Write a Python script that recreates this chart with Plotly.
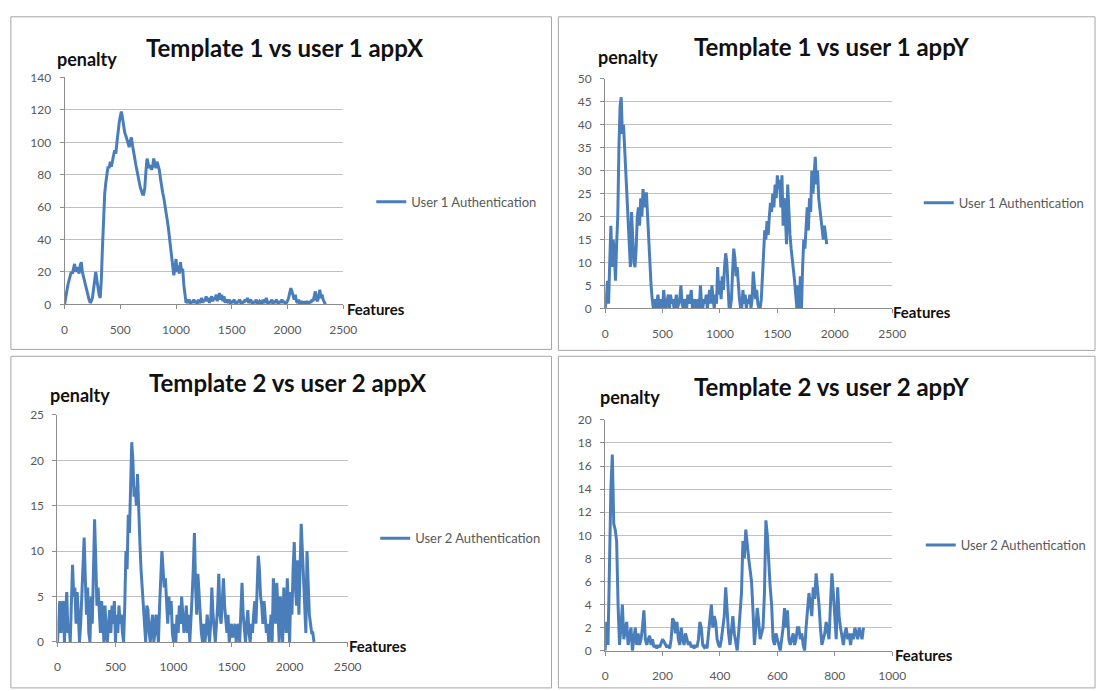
import plotly.graph_objects as go

# ---- data: penalty per feature index for each comparison ----
# Template 1 vs user 1, appX (sampled every 10 features)
penalty_t1_x = [
    0, 3, 8, 12, 15, 18, 20, 19, 22, 25,
    20, 23, 21, 19, 24, 26, 20, 17, 13, 12,
    9, 6, 3, 1, 2, 4, 10, 17, 20, 15,
    10, 6, 4, 15, 35, 55, 68, 75, 80, 85,
    84, 88, 85, 90, 92, 95, 93, 100, 108, 112,
    116, 119, 115, 110, 106, 104, 102, 100, 97, 101,
    103, 98, 95, 90, 86, 82, 78, 75, 72, 70,
    68, 68, 72, 82, 90, 87, 84, 86, 83, 85,
    90, 87, 84, 88, 86, 83, 78, 72, 69, 66,
    62, 58, 54, 48, 42, 36, 30, 24, 18, 22,
    28, 20, 24, 19, 26, 20, 22, 12, 4, 1,
    2, 1, 3, 0, 2, 1, 3, 1, 2, 0,
    3, 1, 2, 4, 1, 3, 2, 5, 2, 4,
    1, 3, 5, 2, 4, 3, 6, 2, 4, 7,
    3, 6, 2, 5, 1, 3, 2, 1, 3, 0,
    2, 1, 3, 1, 0, 2, 1, 3, 1, 0,
    2, 1, 3, 2, 4, 1, 2, 3, 1, 0,
    2, 1, 3, 0, 1, 2, 1, 0, 3, 1,
    2, 4, 1, 0, 2, 1, 3, 0, 2, 1,
    3, 1, 0, 2, 1, 3, 1, 2, 0, 1,
    2, 4, 7, 10, 8, 5, 3, 6, 2, 1,
    3, 0, 1, 2, 0, 1, 0, 2, 1, 0,
    2, 1, 3, 2, 5, 8, 3, 2, 5, 9,
    4, 6, 3, 1, 0,
]
step_t1_x = 10

# Template 1 vs user 1, appY (sampled every 10 features)
penalty_t1_y = [
    0, 2, 6, 1, 10, 18, 9, 15, 12, 6,
    14, 20, 35, 44, 46, 38, 40, 35, 30, 27,
    22, 14, 9, 21, 15, 10, 9, 13, 20, 22,
    18, 24, 20, 26, 22, 25, 25, 20, 12, 8,
    5, 2, 0, 2, 0, 1, 3, 0, 2, 1,
    0, 4, 1, 0, 2, 3, 0, 3, 1, 2,
    0, 1, 3, 0, 1, 2, 5, 1, 0, 2,
    1, 0, 3, 1, 2, 4, 0, 1, 2, 0,
    1, 2, 0, 5, 1, 0, 2, 1, 3, 0,
    2, 4, 1, 5, 2, 0, 3, 1, 9, 3,
    6, 2, 7, 4, 9, 12, 10, 5, 0, 0,
    2, 8, 13, 11, 7, 9, 4, 2, 0, 0,
    4, 1, 3, 0, 2, 1, 3, 0, 2, 8,
    5, 2, 4, 1, 0, 0, 2, 6, 12, 17,
    15, 19, 16, 20, 23, 21, 25, 22, 27, 24,
    29, 26, 28, 22, 29, 18, 24, 20, 14, 27,
    20, 16, 13, 11, 8, 6, 3, 0, 5, 0,
    7, 0, 9, 15, 13, 18, 22, 17, 24, 21,
    30, 25, 28, 33, 27, 30, 24, 22, 19, 17,
    15, 18, 16, 14,
]
step_t1_y = 10

# Template 2 vs user 2, appX (sampled every 10 features)
penalty_t2_x = [
    0, 3, 4.5, 1, 4, 4.5, 0, 3, 5.5, 1,
    2, 0, 4, 8.5, 5, 6, 2, 5.5, 3, 0,
    2, 5, 9, 11.5, 7, 3, 6, 1, 0, 5,
    2, 8, 13.5, 9, 4, 6, 3, 1, 4.5, 3,
    0, 4, 1, 0, 2, 3.5, 1, 4, 2, 4.5,
    0, 3, 1, 4, 2, 3, 1, 0, 4, 10,
    8, 14, 12, 18, 22, 20, 16, 17, 15, 18.5,
    14, 11, 8, 6, 3, 2, 0, 4, 3.5, 1,
    0, 2, 3, 0, 1, 3, 1, 0, 4, 7,
    10, 8, 6, 7, 4, 2, 5, 3, 4.5, 1,
    0, 2, 0, 3, 1, 4, 2, 5, 3, 1,
    2, 4, 1, 3, 0, 2, 5, 8, 12, 6,
    3, 7.5, 5, 2, 1, 0, 2, 0, 1, 3,
    1, 0, 2, 6, 3, 1, 0, 2, 4, 7.5,
    3, 2, 5, 7, 4, 2, 1, 3, 0, 1,
    2, 0.5, 1, 2, 0, 1.5, 2, 0, 3, 6.5,
    3, 1, 0, 2, 3.5, 1, 0, 2, 1, 3,
    4.5, 2, 6, 9.5, 8, 5, 4, 2, 4.5, 3,
    1, 2, 0, 1, 3, 0, 7, 5, 2, 6.5,
    3, 0, 5, 2, 0, 6, 3, 1, 7, 4,
    0, 5.5, 3, 8, 11, 6, 4, 9, 3, 8,
    13, 10, 7, 4, 1, 10, 6, 3, 2, 1,
    1, 0,
]
step_t2_x = 10

# Template 2 vs user 2, appY (sampled every 5 features)
penalty_t2_y = [
    0, 2.5, 0.5, 7, 14, 17, 11, 10.5, 9.5, 4,
    0.5, 2, 4, 1, 2, 2.5, 0.5, 1.5, 2, 0,
    1, 2, 0.5, 1.5, 0.5, 1, 2, 3.5, 1, 0.5,
    1, 1.3, 0.5, 1, 0.3, 0.5, 0.2, 0.5, 0.3, 0.6,
    1, 0.8, 0.5, 0.3, 0.5, 0.2, 1, 2.8, 2.5, 1.5,
    2.5, 1, 0.5, 2, 1, 0.5, 1.5, 1, 0.5, 0.8,
    0.3, 0.5, 0.2, 0.5, 0.3, 1, 2.5, 2, 0.5, 0.3,
    0.5, 0.2, 1.5, 3, 4, 2, 3, 2.5, 1, 0.5,
    0.3, 1, 2, 3, 5.5, 3, 1.5, 0.5, 2, 3,
    1.5, 0.5, 0, 1.5, 3, 5, 9.5, 8, 10.5, 9,
    8, 7, 6, 3.5, 0.5, 2, 3.7, 2.5, 1, 1.5,
    2, 5, 11.3, 10, 7, 5.5, 4, 1, 0.5, 1.5,
    1, 0.5, 0, 1, 2, 3.7, 2, 3.5, 1, 0.5,
    1, 1.5, 0.5, 1, 2, 2, 1, 1.5, 0.5, 0,
    2, 3.5, 5, 4, 3, 5.5, 4.5, 6.7, 5.5, 4,
    2, 0.5, 1, 1.5, 2.5, 1.5, 1, 4, 6.7, 5,
    3, 1, 5.5, 3, 2, 1, 0.5, 1.5, 2, 1,
    1.5, 0.5, 1.5, 1, 2, 1.5, 1, 2, 1.5, 1,
    2,
]
step_t2_y = 5

titles = ["Template 1 vs user 1 appX", "Template 1 vs user 1 appY",
          "Template 2 vs user 2 appX", "Template 2 vs user 2 appY"]
series_names = ["User 1 Authentication", "User 1 Authentication",
                "User 2 Authentication", "User 2 Authentication"]
x_max = [2500, 2500, 2500, 1000]
x_dtick = [500, 500, 500, 200]
y_max = [140, 50, 25, 20]
y_dtick = [20, 5, 5, 2]

series = [(penalty_t1_x, step_t1_x), (penalty_t1_y, step_t1_y),
          (penalty_t2_x, step_t2_x), (penalty_t2_y, step_t2_y)]

# ---- layout geometry (pixels in a 1111 x 691 page) ----
W, H = 1111, 691
# plot areas: (x of 0, x of max, y of 0, y of max)
plot_px = [
    (62.5, 345.5, 303, 71),
    (611.5, 903, 307, 72.5),
    (55.3, 350, 648, 416),
    (611.5, 903, 657, 421),
]
# chart frames: (left, top, right, bottom)
frames_px = [(8, 9, 557, 349), (564, 9, 1109, 350),
             (8, 356, 557, 695), (564, 356, 1109, 695)]
title_px = [(286, 40), (841, 39), (289, 383), (841, 387)]
ylab_px = [(53, 52), (602, 50), (46, 396), (604, 398)]
xlab_px = [(347, 308), (902, 311), (349, 652), (904, 661)]
legend_px = [(374, 198), (930, 199), (378, 542), (932, 549)]

LINE = "#4A7EBB"
GRID = "#C0C0C0"
AXIS = "#8C8C8C"
TICKC = "#595959"
FONT = "Lato"


def fx(px):
    return px / W


def fy(py):
    return 1 - py / H


fig = go.Figure()
layout = dict(
    width=W, height=H,
    margin=dict(l=0, r=0, t=0, b=0),
    paper_bgcolor="white", plot_bgcolor="white",
    showlegend=True,
    font=dict(family=FONT, color=TICKC, size=12),
)
annotations = []
shapes = []

for i in range(4):
    vals, step = series[i]
    feats = [k * step for k in range(len(vals))]
    sfx = "" if i == 0 else str(i + 1)
    leg = "legend" if i == 0 else f"legend{i + 1}"
    fig.add_trace(go.Scatter(
        x=feats, y=vals, mode="lines", name=series_names[i],
        line=dict(color=LINE, width=3),
        xaxis="x" + sfx, yaxis="y" + sfx, legend=leg,
        hoverinfo="x+y",
    ))

    x0, x1, y0, y1 = plot_px[i]
    layout["xaxis" + sfx] = dict(
        domain=[fx(x0), fx(x1)], range=[0, x_max[i]], dtick=x_dtick[i],
        tick0=0, showgrid=False, zeroline=False,
        showline=True, linecolor=AXIS, linewidth=1,
        ticks="outside", ticklen=4, tickcolor=AXIS,
        ticklabelstandoff=10,
        tickfont=dict(family=FONT, size=12, color=TICKC),
        anchor="y" + sfx, fixedrange=True,
    )
    layout["yaxis" + sfx] = dict(
        domain=[fy(y0), fy(y1)], range=[0, y_max[i]], dtick=y_dtick[i],
        tick0=0, showgrid=True, gridcolor=GRID, gridwidth=1, zeroline=False,
        showline=True, linecolor=AXIS, linewidth=1,
        ticks="outside", ticklen=4, tickcolor=AXIS,
        ticklabelstandoff=6,
        tickfont=dict(family=FONT, size=12, color=TICKC),
        anchor="x" + sfx, fixedrange=True,
    )

    lx, ly = legend_px[i]
    layout[leg] = dict(
        x=fx(lx), y=fy(ly), xanchor="left", yanchor="middle",
        bgcolor="rgba(0,0,0,0)", borderwidth=0, itemwidth=30,
        font=dict(family=FONT, size=13, color=TICKC),
    )

    tx, ty = title_px[i]
    annotations.append(dict(
        x=fx(tx), y=fy(ty), xref="paper", yref="paper", showarrow=False,
        text="<b>" + titles[i] + "</b>", xanchor="center", yanchor="middle",
        font=dict(family=FONT, size=24, color="#111111"),
    ))
    ax, ay = ylab_px[i]
    annotations.append(dict(
        x=fx(ax), y=fy(ay), xref="paper", yref="paper", showarrow=False,
        text="<b>penalty</b>", xanchor="left", yanchor="middle",
        font=dict(family=FONT, size=18, color="#111111"),
    ))
    bx, by = xlab_px[i]
    annotations.append(dict(
        x=fx(bx), y=fy(by), xref="paper", yref="paper", showarrow=False,
        text="<b>Features</b>", xanchor="left", yanchor="middle",
        font=dict(family=FONT, size=15, color="#111111"),
    ))

    l, t, r, b = frames_px[i]
    shapes.append(dict(
        type="rect", xref="paper", yref="paper",
        x0=fx(l), x1=fx(r), y0=fy(b), y1=fy(t),
        line=dict(color="#A6A6A6", width=1), fillcolor="rgba(0,0,0,0)",
        layer="below",
    ))

layout["annotations"] = annotations
layout["shapes"] = shapes
fig.update_layout(**layout)

fig.write_html("out.html")
